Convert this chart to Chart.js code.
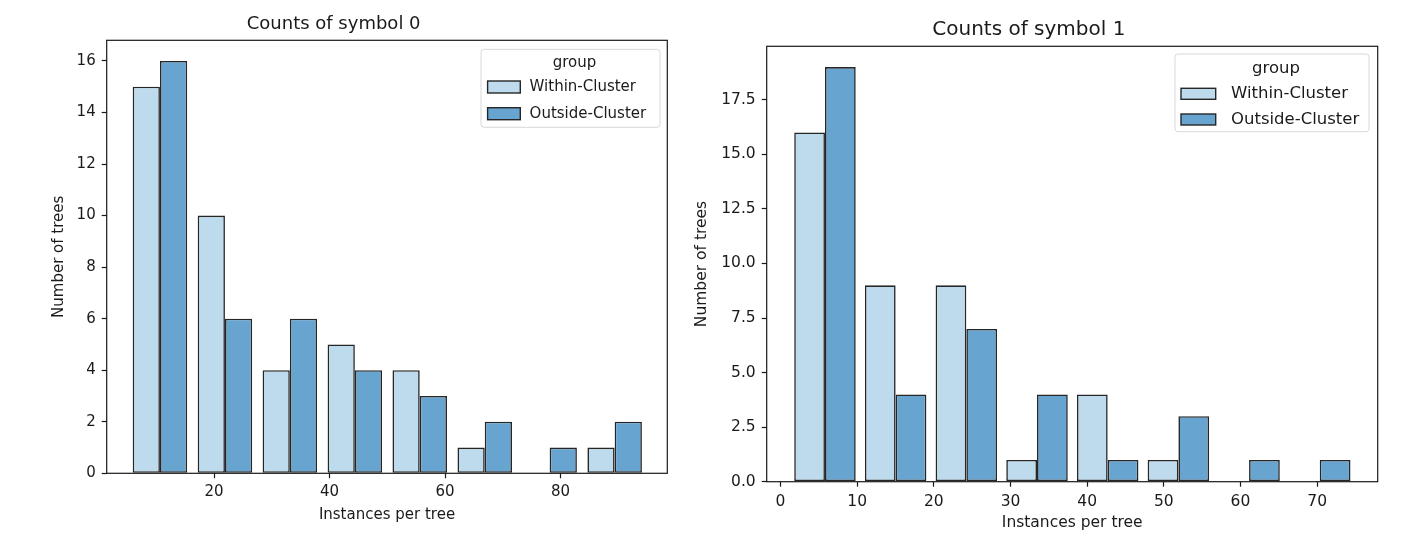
<!DOCTYPE html>
<html>
<head>
<meta charset="utf-8">
<script src="https://cdn.jsdelivr.net/npm/chart.js@4"></script>
<style>
  body { margin: 0; background: #fff; }
  .box { position: absolute; top: 0; height: 550px; }
  #left { left: 0; width: 680px; }
  #right { left: 680px; width: 722px; }
</style>
</head>
<body>
<div class="box" id="left"><canvas id="SYMBOL0"></canvas></div>
<div class="box" id="right"><canvas id="SYMBOL1"></canvas></div>
<script>
// data
var groups = ['Within-Cluster', 'Outside-Cluster'];
var bins0 = [10.62, 21.88, 33.12, 44.38, 55.62, 66.88, 78.12, 89.38];
var within0 = [15, 10, 4, 5, 4, 1, 0, 1];
var outside0 = [16, 6, 6, 4, 3, 2, 1, 2];
var xTicks0 = [20, 40, 60, 80];
var yTicks0 = [0, 2, 4, 6, 8, 10, 12, 14, 16];

var bins1 = [5.8, 15.02, 24.24, 33.46, 42.68, 51.9, 61.12, 70.34];
var within1 = [16, 9, 9, 1, 4, 1, 0, 0];
var outside1 = [19, 4, 7, 4, 1, 3, 1, 1];
var xTicks1 = [0, 10, 20, 30, 40, 50, 60, 70];
var yTicks1 = [0, 2.5, 5, 7.5, 10, 12.5, 15, 17.5];

var lightBlue = '#bddbec';
var darkBlue = '#67a4cf';
var edge = '#262626';
var ink = '#1a1a1a';
var fam = '"DejaVu Sans", sans-serif';

function pairs(xs, ys) {
  return xs.map(function (x, i) { return { x: x, y: ys[i] }; });
}

// matplotlib style box round the axes
var frame = {
  id: 'frame',
  afterDatasetsDraw: function (chart) {
    var a = chart.chartArea, ctx = chart.ctx;
    ctx.save();
    ctx.strokeStyle = ink;
    ctx.lineWidth = 1.2;
    ctx.strokeRect(a.left, a.top, a.right - a.left, a.bottom - a.top);
    ctx.restore();
  }
};

// legend with title inside the axes, top right
var boxLegend = {
  id: 'boxLegend',
  afterDraw: function (chart, args, o) {
    var a = chart.chartArea, ctx = chart.ctx;
    var x = a.right - o.right - o.width, y = a.top + o.top;
    ctx.save();
    ctx.fillStyle = 'rgba(255,255,255,0.85)';
    ctx.strokeStyle = '#d8d8d8';
    ctx.lineWidth = 1;
    ctx.beginPath();
    ctx.roundRect(x, y, o.width, o.height, 3);
    ctx.fill();
    ctx.stroke();
    ctx.font = o.font + 'px ' + fam;
    ctx.fillStyle = ink;
    ctx.textBaseline = 'middle';
    ctx.textAlign = 'center';
    ctx.fillText('group', x + o.width / 2 + 4, y + o.titleY);
    ctx.textAlign = 'left';
    chart.data.datasets.forEach(function (ds, i) {
      var cy = y + o.rows[i];
      ctx.fillStyle = ds.backgroundColor;
      ctx.fillRect(x + o.patchX, cy - o.patchH / 2, o.patchW, o.patchH);
      ctx.strokeStyle = edge;
      ctx.lineWidth = 1.4;
      ctx.strokeRect(x + o.patchX, cy - o.patchH / 2, o.patchW, o.patchH);
      ctx.fillStyle = ink;
      ctx.fillText(ds.label, x + o.textX, cy);
    });
    ctx.restore();
  }
};

function makeChart(id, cfg) {
  var ctx = document.getElementById(id).getContext('2d');
  return new Chart(ctx, {
    type: 'bar',
    data: {
      datasets: [{
        label: groups[0],
        data: pairs(cfg.bins, cfg.within),
        backgroundColor: lightBlue,
        borderColor: edge,
        borderWidth: 1.6,
        borderSkipped: false
      }, {
        label: groups[1],
        data: pairs(cfg.bins, cfg.outside),
        backgroundColor: darkBlue,
        borderColor: edge,
        borderWidth: 1.6,
        borderSkipped: false
      }]
    },
    options: {
      responsive: true,
      maintainAspectRatio: false,
      animation: false,
      categoryPercentage: cfg.shrink,
      barPercentage: 1.0,
      layout: { padding: { left: 0, right: cfg.padRight, top: 0, bottom: 0 } },
      plugins: {
        legend: { display: false },
        tooltip: { enabled: false },
        title: {
          display: true,
          text: cfg.title,
          color: ink,
          font: { family: fam, size: cfg.titleSize, weight: 'normal' },
          padding: cfg.titlePad
        },
        boxLegend: cfg.legend
      },
      scales: {
        x: {
          type: 'linear',
          offset: false,
          min: cfg.xMin,
          max: cfg.xMax,
          afterFit: function (s) { s.height = cfg.xHeight; },
          afterBuildTicks: function (s) { s.ticks = cfg.xTicks.map(function (v) { return { value: v }; }); },
          grid: { offset: false, drawOnChartArea: false, tickLength: 5, tickColor: ink, tickWidth: 1.2 },
          border: { display: false },
          ticks: { color: ink, padding: cfg.tickPad, font: { family: fam, size: cfg.fontSize }, maxRotation: 0 },
          title: {
            display: true,
            text: 'Instances per tree',
            color: ink,
            font: { family: fam, size: cfg.fontSize },
            padding: { top: 0, bottom: cfg.xTitlePad }
          }
        },
        y: {
          min: 0,
          max: cfg.yMax,
          afterFit: function (s) { s.width = cfg.yWidth; },
          afterBuildTicks: function (s) { s.ticks = cfg.yTicks.map(function (v) { return { value: v }; }); },
          grid: { drawOnChartArea: false, tickLength: 5, tickColor: ink, tickWidth: 1.2 },
          border: { display: false },
          ticks: {
            color: ink,
            padding: 6,
            font: { family: fam, size: cfg.fontSize },
            callback: function (v) { return cfg.yFixed ? v.toFixed(1) : String(v); }
          },
          title: {
            display: true,
            text: 'Number of trees',
            color: ink,
            font: { family: fam, size: cfg.fontSize },
            padding: { top: cfg.yTitlePad, bottom: 0 }
          }
        }
      }
    },
    plugins: [frame, boxLegend]
  });
}

var symbol0 = makeChart('SYMBOL0', {
  bins: bins0, within: within0, outside: outside0,
  xTicks: xTicks0, yTicks: yTicks0,
  title: 'Counts of symbol 0', titleSize: 18, titlePad: { top: 13.5, bottom: 5.2 },
  fontSize: 15, tickPad: 5, shrink: 0.84,
  xMin: 1.4, xMax: 98.5, yMax: 16.8, yFixed: false,
  padRight: 12.7, yWidth: 106.7, xHeight: 76.7,
  xTitlePad: 26, yTitlePad: 50,
  legend: { right: 7.3, top: 9, width: 179, height: 78, titleY: 13.7, rows: [37.7, 64.4],
            patchX: 6.6, patchW: 32.7, patchH: 12, textX: 48.6, font: 15 }
});

var symbol1 = makeChart('SYMBOL1', {
  bins: bins1, within: within1, outside: outside1,
  xTicks: xTicks1, yTicks: yTicks1,
  title: 'Counts of symbol 1', titleSize: 20, titlePad: { top: 17.3, bottom: 5 },
  fontSize: 15.5, tickPad: 6, shrink: 0.87,
  xMin: -1.8, xMax: 77.9, yMax: 19.95, yFixed: true,
  padRight: 24.3, yWidth: 86.7, xHeight: 68.3,
  xTitlePad: 18, yTitlePad: 13,
  legend: { right: 8.7, top: 7.7, width: 194, height: 77.7, titleY: 15, rows: [39.8, 65.5],
            patchX: 6, patchW: 34.7, patchH: 11, textX: 56, font: 16.5 }
});
</script>
</body>
</html>
